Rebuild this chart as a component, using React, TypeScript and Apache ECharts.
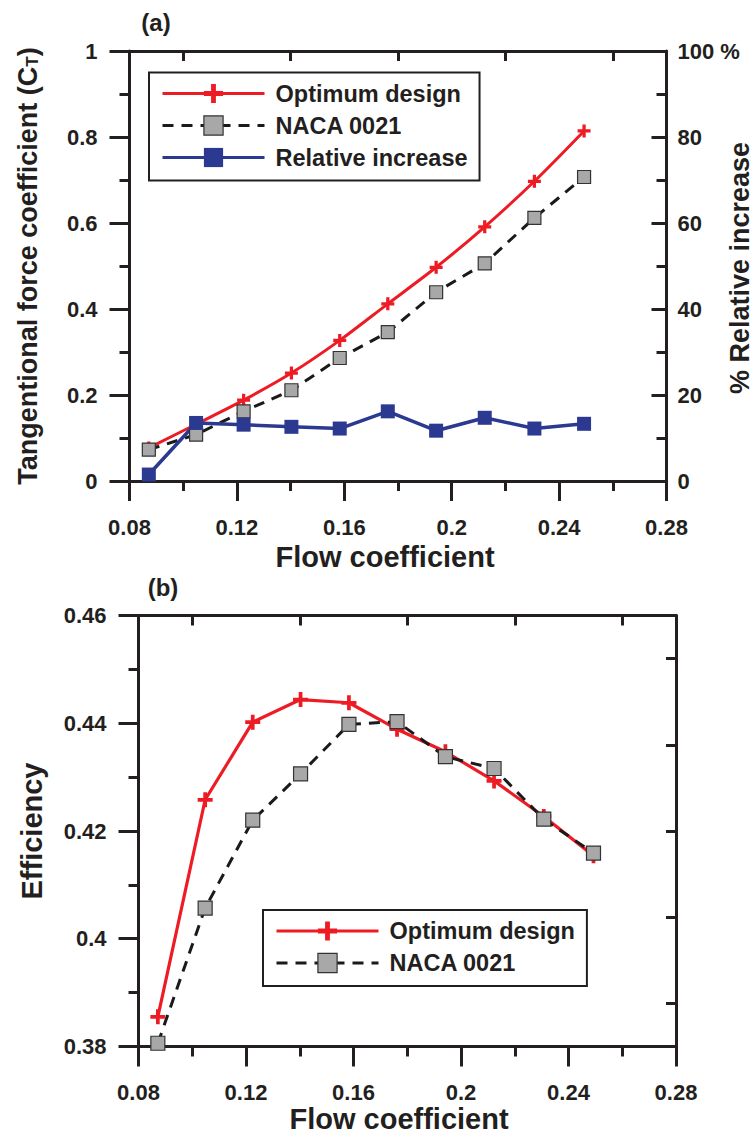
import React, { useEffect, useRef } from 'react';
import * as echarts from 'echarts';

// ---- data ----
const flowCoefficient = [0.0872, 0.1048, 0.1225, 0.1403, 0.1583, 0.1762, 0.1942, 0.2123, 0.2308, 0.2493];
const ctOptimum = [0.077, 0.132, 0.188, 0.251, 0.327, 0.412, 0.497, 0.591, 0.697, 0.814];
const ctNaca = [0.073, 0.108, 0.162, 0.211, 0.286, 0.346, 0.439, 0.506, 0.612, 0.707];
const relativeIncrease = [1.5, 13.5, 13.1, 12.6, 12.2, 16.2, 11.7, 14.7, 12.2, 13.3];
const effOptimum = [0.3855, 0.4258, 0.4402, 0.4444, 0.4438, 0.4389, 0.4347, 0.4293, 0.4227, 0.4154];
const effNaca = [0.3806, 0.4057, 0.422, 0.4306, 0.4398, 0.4403, 0.4338, 0.4316, 0.4222, 0.4159];
const legendA = ['Optimum design', 'NACA 0021', 'Relative increase'];
const legendB = ['Optimum design', 'NACA 0021'];
const rightTicksB = ['t1', 't2', 't3', 't4', 't5'];

const FONT = '"Liberation Sans", Arial, Helvetica, sans-serif';
const INK = '#231f20';
const RED = '#ed1c24';
const BLUE = '#2b3990';
const GRAY = '#a8a8a8';
const DASH = '#1a1a1a';
const CROSS = 'path://M4.5,0H7.5V4.5H12V7.5H7.5V12H4.5V7.5H0V4.5H4.5Z';

const pairs = (xs: number[], ys: number[]) => xs.map((x, i) => [x, ys[i]]);
const tickLine = { color: INK, width: 3 };
const labelFont = { color: INK, fontSize: 22, fontWeight: 'bold' as const, fontFamily: FONT };

function bottomX(gridIndex: number) {
  return {
    type: 'value', gridIndex, position: 'bottom', min: 0.08, max: 0.28, interval: 0.04,
    axisLine: { show: true, onZero: false, lineStyle: tickLine },
    axisTick: { show: true, inside: false, length: 20, lineStyle: tickLine },
    minorTick: { show: true, splitNumber: 2, length: 10, lineStyle: tickLine },
    splitLine: { show: false }, minorSplitLine: { show: false },
    axisLabel: { ...labelFont, margin: 35, formatter: (v: number) => String(Number(v.toFixed(2))) },
  };
}
function topX(gridIndex: number) {
  return {
    type: 'value', gridIndex, position: 'top', min: 0.08, max: 0.28, interval: 0.04,
    axisLine: { show: true, onZero: false, lineStyle: tickLine },
    axisTick: { show: false, inside: true },
    minorTick: { show: true, splitNumber: 2, length: 10, lineStyle: tickLine },
    splitLine: { show: false }, minorSplitLine: { show: false },
    axisLabel: { show: false },
  };
}

function legendCfg(left: number, top: number, data: string[]) {
  return {
    orient: 'vertical', left, top, data, align: 'left',
    padding: [9, 12, 11, 12], itemGap: 8, itemWidth: 102, itemHeight: 24,
    borderColor: INK, borderWidth: 2, backgroundColor: '#fff', selectedMode: false,
    lineStyle: { width: 3 },
    itemStyle: { borderWidth: 1.2 },
    textStyle: { fontSize: 23.5, fontWeight: 'bold', fontFamily: FONT, color: INK, lineHeight: 24, padding: [0, 0, 0, 6] },
  };
}

function titleText(text: string, x: number, y: number, size: number, rotate = false) {
  return {
    type: 'text', x, y, rotation: rotate ? Math.PI / 2 : 0,
    style: { text, font: `bold ${size}px ${FONT}`, fill: INK, textAlign: 'center', textVerticalAlign: 'middle' },
  };
}

export default function App() {
  const ref = useRef<HTMLDivElement>(null);
  useEffect(() => {
    if (!ref.current) return;
    const chart = echarts.init(ref.current, null, { renderer: 'svg' });
    const option: any = {
      animation: false,
      backgroundColor: '#fff',
      grid: [
        { left: 129.5, top: 51, width: 537, height: 430 },
        { left: 138.5, top: 615.5, width: 537.5, height: 431 },
      ],
      xAxis: [bottomX(0), topX(0), bottomX(1), topX(1)],
      yAxis: [
        {
          type: 'value', gridIndex: 0, position: 'left', min: 0, max: 1, interval: 0.2,
          axisLine: { show: true, onZero: false, lineStyle: tickLine },
          axisTick: { show: true, inside: false, length: 20, lineStyle: tickLine },
          minorTick: { show: true, splitNumber: 2, length: 10, lineStyle: tickLine },
          splitLine: { show: false }, minorSplitLine: { show: false },
          axisLabel: { ...labelFont, margin: 32, formatter: (v: number) => String(Number(v.toFixed(1))) },
        },
        {
          type: 'value', gridIndex: 0, position: 'right', min: 0, max: 100, interval: 20,
          axisLine: { show: true, onZero: false, lineStyle: tickLine },
          axisTick: { show: true, inside: true, length: 15, lineStyle: tickLine },
          minorTick: { show: true, splitNumber: 2, length: 10, lineStyle: tickLine },
          splitLine: { show: false }, minorSplitLine: { show: false },
          axisLabel: { ...labelFont, margin: 11, formatter: (v: number) => (v === 100 ? '100 %' : String(v)) },
        },
        {
          type: 'value', gridIndex: 1, position: 'left', min: 0.38, max: 0.46, interval: 0.02,
          axisLine: { show: true, onZero: false, lineStyle: tickLine },
          axisTick: { show: true, inside: false, length: 20, lineStyle: tickLine },
          minorTick: { show: true, splitNumber: 2, length: 10, lineStyle: tickLine },
          splitLine: { show: false }, minorSplitLine: { show: false },
          axisLabel: { ...labelFont, margin: 32, formatter: (v: number) => String(Number(v.toFixed(2))) },
        },
        {
          type: 'category', gridIndex: 1, position: 'right', data: rightTicksB, boundaryGap: true,
          axisLine: { show: true, onZero: false, lineStyle: tickLine },
          axisTick: { show: true, inside: true, alignWithLabel: true, length: 10, lineStyle: tickLine },
          splitLine: { show: false },
          axisLabel: { show: false },
        },
      ],
      legend: [legendCfg(149, 72.5, legendA), legendCfg(263, 910, legendB)],
      series: [
        {
          name: 'Optimum design', type: 'line', xAxisIndex: 0, yAxisIndex: 0,
          data: pairs(flowCoefficient, ctOptimum), smooth: 0.3,
          symbol: CROSS, symbolSize: 13,
          lineStyle: { color: RED, width: 3 }, itemStyle: { color: RED },
        },
        {
          name: 'NACA 0021', type: 'line', xAxisIndex: 0, yAxisIndex: 0,
          data: pairs(flowCoefficient, ctNaca),
          symbol: 'rect', symbolSize: 13,
          lineStyle: { color: DASH, width: 3, type: [11, 8] },
          itemStyle: { color: GRAY, borderColor: '#333', borderWidth: 1.2 },
        },
        {
          name: 'Relative increase', type: 'line', xAxisIndex: 0, yAxisIndex: 1,
          data: pairs(flowCoefficient, relativeIncrease),
          symbol: 'rect', symbolSize: 14,
          lineStyle: { color: BLUE, width: 3.5 }, itemStyle: { color: BLUE },
        },
        {
          name: 'Optimum design', type: 'line', xAxisIndex: 2, yAxisIndex: 2,
          data: pairs(flowCoefficient, effOptimum),
          symbol: CROSS, symbolSize: 15,
          lineStyle: { color: RED, width: 3.2 }, itemStyle: { color: RED },
        },
        {
          name: 'NACA 0021', type: 'line', xAxisIndex: 2, yAxisIndex: 2,
          data: pairs(flowCoefficient, effNaca),
          symbol: 'rect', symbolSize: 14,
          lineStyle: { color: DASH, width: 3, type: [11, 8] },
          itemStyle: { color: GRAY, borderColor: '#333', borderWidth: 1.2 },
        },
      ],
      graphic: [
        titleText('(a)', 156, 22, 24),
        titleText('(b)', 163, 587, 24),
        titleText('Flow coefficient', 385, 557, 29),
        titleText('Flow coefficient', 399, 1119, 29),
        titleText('Efficiency', 32, 831, 29, true),
        titleText('% Relative increase', 740, 268, 27, true),
        {
          type: 'text', x: 28, y: 266, rotation: Math.PI / 2,
          style: {
            text: '{m|Tangentional force coefficient (C}{s|T}{m|)}',
            textAlign: 'center', textVerticalAlign: 'middle',
            rich: {
              m: { font: `bold 27px ${FONT}`, fill: INK, lineHeight: 30 },
              s: { font: `bold 17px ${FONT}`, fill: INK, padding: [9, 0, 0, 0], lineHeight: 30 },
            },
          },
        },
      ],
    };
    chart.setOption(option);
    return () => chart.dispose();
  }, []);
  return <div ref={ref} style={{ position: 'absolute', left: 0, top: 0, width: 756, height: 1135 }} />;
}
